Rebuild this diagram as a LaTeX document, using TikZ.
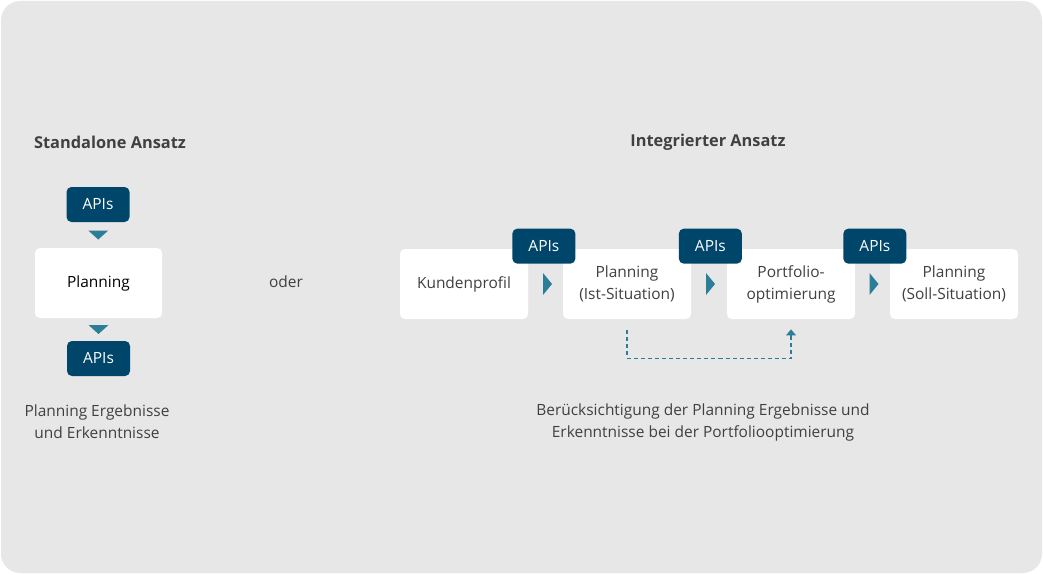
\documentclass[tikz,border=0pt]{standalone}
\usepackage{fontspec}
\setmainfont{Open Sans}
\usetikzlibrary{arrows.meta,calc}
\definecolor{bggrey}{HTML}{E7E7E7}
\definecolor{apiblue}{HTML}{00466B}
\definecolor{tealarr}{HTML}{2A7E98}
\definecolor{txtgrey}{HTML}{404040}
\tikzset{
  txt/.style={text=txtgrey, align=center, font=\fontsize{8.8}{12.5}\selectfont},
  box/.style={txt, fill=white, rounded corners=2.8pt, minimum width=128*0.02cm, minimum height=70*0.02cm, inner sep=0pt},
  api/.style={fill=apiblue, text=white, rounded corners=2.8pt, minimum width=63*0.02cm, minimum height=35*0.02cm, inner sep=0pt, font=\fontsize{8.8}{12.5}\selectfont},
  tri/.style={fill=tealarr},
  dashline/.style={draw=tealarr, line width=0.8pt, dash pattern=on 2.3pt off 1.7pt, -{Triangle[width=5.5pt,length=3.4pt]}},
}
\begin{document}
\begin{tikzpicture}[x=0.02cm,y=-0.02cm]
  %Hintergrund
  \useasboundingbox (0,0) rectangle (1043,574);
  \fill[white] (0,0) rectangle (1043,574);
  \fill[bggrey, rounded corners=11pt] (1,1) rectangle (1042,573);

  %Standalone
  \node[txt, font=\fontsize{9.3}{12.5}\selectfont\bfseries] (stitle) at (110,142) {Standalone Ansatz};
  \node[api] (sapi1) at (98,204.5) {APIs};
  \node[box, minimum width=127*0.02cm, text=black] (splan) at (98.5,283) {Planning};
  \node[api] (sapi2) at (98.5,358.5) {APIs};
  \node[txt] (snote) at (97,422) {Planning Ergebnisse\\und Erkenntnisse};
  \path (sapi1.south) -- (splan.north) coordinate[midway] (sd1);
  \path (splan.south) -- (sapi2.north) coordinate[midway] (sd2);
  \fill[tri] (sd1) ++(-10,-4.5) -- ++(20,0) -- ++(-10,9) -- cycle; %oberes Dreieck
  \fill[tri] (sd2) ++(-10,-4.5) -- ++(20,0) -- ++(-10,9) -- cycle; %unteres Dreieck

  \node[txt] (oder) at (286,282) {oder};

  %Integriert
  \node[txt, font=\fontsize{9.3}{12.5}\selectfont\bfseries] (ititle) at (708,142) {Integrierter Ansatz};
  \node[box] (kunde) at (464,284) {Kundenprofil};
  \node[box] (ist) at (627,284) {Planning\\(Ist-Situation)};
  \node[box] (port) at (791,284) {Portfolio-\\optimierung};
  \node[box] (soll) at (954,284) {Planning\\(Soll-Situation)};
  \node[api] (iapi1) at ($(kunde.north east)+(15.5,-2.5)$) {APIs};
  \node[api] (iapi2) at ($(ist.north east)+(19,-2.5)$) {APIs};
  \node[api] (iapi3) at ($(port.north east)+(19.5,-2.5)$) {APIs};
  \path (kunde.east) -- (ist.west) coordinate[midway] (it1);
  \path (ist.east) -- (port.west) coordinate[midway] (it2);
  \path (port.east) -- (soll.west) coordinate[midway] (it3);
  \fill[tri] (it1) ++(-2.5,-11) -- ++(9,11) -- ++(-9,11) -- cycle;
  \fill[tri] (it2) ++(-3,-11) -- ++(9,11) -- ++(-9,11) -- cycle;
  \fill[tri] (it3) ++(-3,-11) -- ++(9,11) -- ++(-9,11) -- cycle; %Dreiecke
  \draw[dashline] ($(ist.south)+(0,11)$) -- ++(0,28) -| ($(port.south)+(0,10)$); %Rueckfuehrung
  \node[txt] (inote) at (703,422) {Berücksichtigung der Planning Ergebnisse und\\Erkenntnisse bei der Portfoliooptimierung};
\end{tikzpicture}
\end{document}
